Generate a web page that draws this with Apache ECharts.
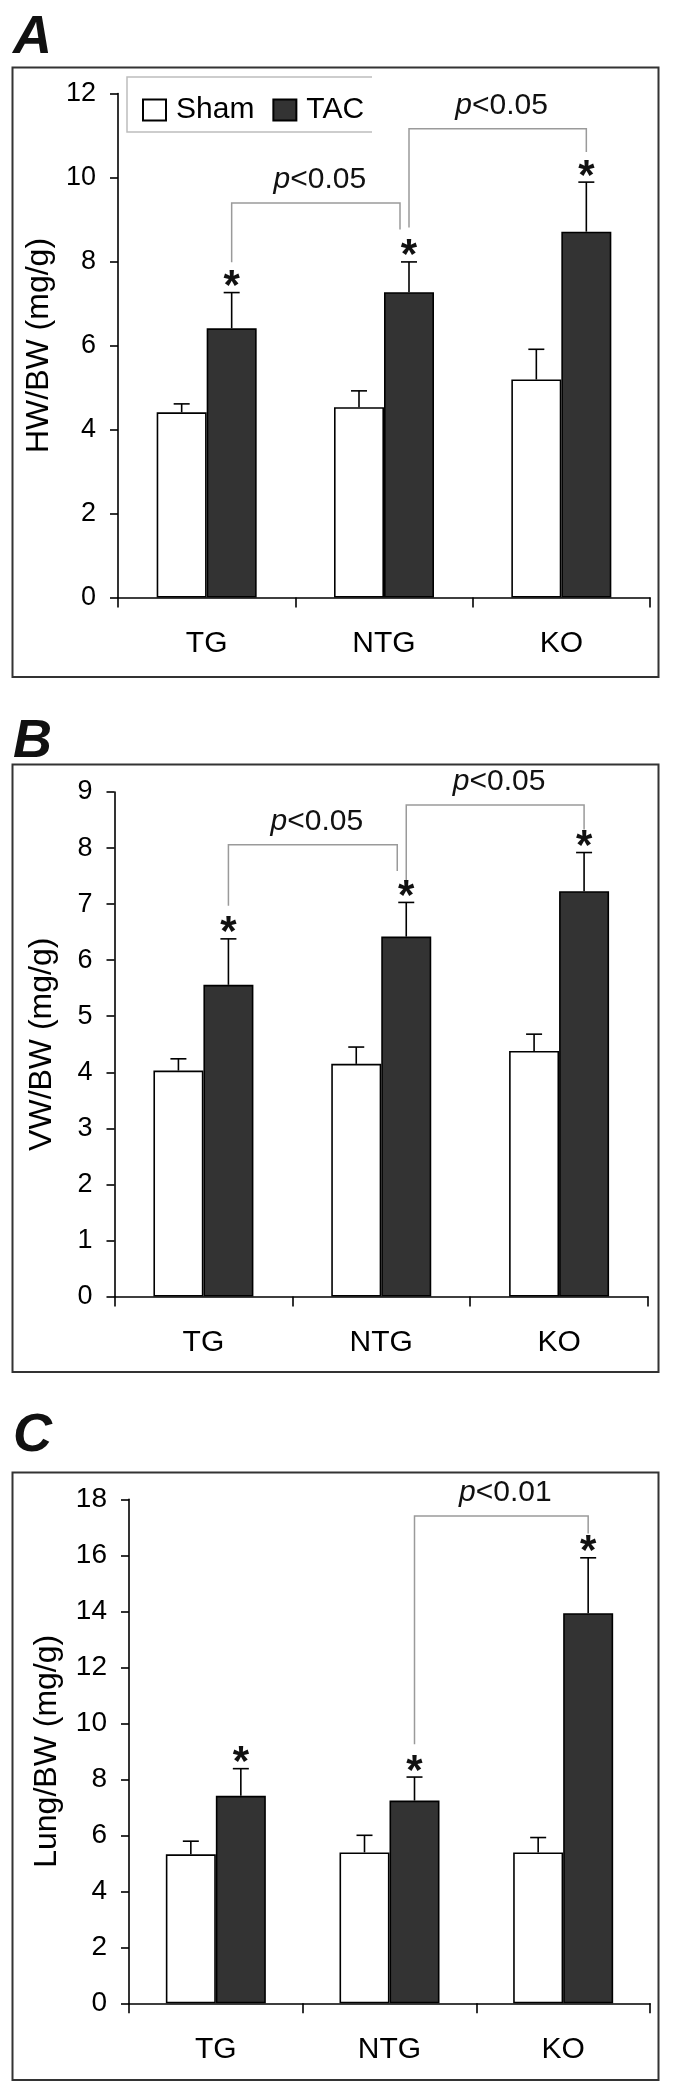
<!DOCTYPE html>
<html><head><meta charset="utf-8">
<script src="https://cdn.jsdelivr.net/npm/echarts@6/dist/echarts.min.js"></script>
<style>html,body{margin:0;padding:0;background:#fff}#c{width:674px;height:2094px}</style>
</head><body><div id="c"></div>
<script>
// ---------- data ----------
const categories = ['TG', 'NTG', 'KO'];
const seriesNames = ['Sham', 'TAC'];

// Panel A: HW/BW (mg/g)
const hwSham = [4.41, 4.53, 5.19];
const hwShamTop = [4.61, 4.92, 5.91];
const hwTac = [6.41, 7.27, 8.71];
const hwTacTop = [7.26, 7.99, 9.89];
const hwBrackets = [[0, 1, 7.98, 9.39, 8.76, 'p<0.05'], [1, 2, 8.81, 11.16, 10.61, 'p<0.05']];

// Panel B: VW/BW (mg/g)
const vwSham = [4.03, 4.15, 4.38];
const vwShamTop = [4.24, 4.45, 4.68];
const vwTac = [5.56, 6.42, 7.23];
const vwTacTop = [6.38, 7.03, 7.92];
const vwBrackets = [[0, 1, 6.97, 8.06, 7.59, 'p<0.05'], [1, 2, 7.36, 8.77, 8.33, 'p<0.05']];

// Panel C: Lung/BW (mg/g)
const lungSham = [5.32, 5.39, 5.39];
const lungShamTop = [5.79, 6.00, 5.92];
const lungTac = [7.41, 7.24, 13.93];
const lungTacTop = [8.38, 8.08, 15.91];
const lungBrackets = [[1, 2, 9.25, 17.4, 16.78, 'p<0.01']];

// ---------- rendering ----------
const FONT = '"Liberation Sans", Arial, Helvetica, sans-serif';
const BAR = 50;

const panels = [
  { letter: 'A', name: 'HW/BW (mg/g)', max: 12, interval: 2, nameGap: 56, tickFont: 27,
    grid: { left: 118, top: 93.5, width: 532, height: 504 },
    sham: hwSham, shamTop: hwShamTop, tac: hwTac, tacTop: hwTacTop, brackets: hwBrackets },
  { letter: 'B', name: 'VW/BW (mg/g)', max: 9, interval: 1, nameGap: 56, tickFont: 27,
    grid: { left: 114.5, top: 792, width: 533.5, height: 504.5 },
    sham: vwSham, shamTop: vwShamTop, tac: vwTac, tacTop: vwTacTop, brackets: vwBrackets },
  { letter: 'C', name: 'Lung/BW (mg/g)', max: 18, interval: 2, nameGap: 66, tickFont: 28,
    grid: { left: 129, top: 1499.3, width: 521, height: 504 },
    sham: lungSham, shamTop: lungShamTop, tac: lungTac, tacTop: lungTacTop, brackets: lungBrackets }
];

function errSeries(gi, means, tops, side, star) {
  return {
    type: 'custom', xAxisIndex: gi, yAxisIndex: gi, z: 5, silent: true,
    data: means.map((m, i) => [i, m, tops[i]]),
    renderItem(params, api) {
      const c = api.coord([api.value(0), api.value(1)]);
      const t = api.coord([api.value(0), api.value(2)]);
      const x = c[0] + side * BAR / 2;
      const ch = [
        { type: 'line', shape: { x1: x, y1: c[1], x2: x, y2: t[1] }, style: { stroke: '#000', lineWidth: 1.6 } },
        { type: 'line', shape: { x1: x - 8, y1: t[1], x2: x + 8, y2: t[1] }, style: { stroke: '#000', lineWidth: 1.6 } }
      ];
      if (star) ch.push({ type: 'text', x: x, y: t[1] - 5,
        style: { text: '*', font: 'bold 42px ' + FONT, fill: '#111', align: 'center', verticalAlign: 'middle' } });
      return { type: 'group', children: ch };
    }
  };
}

function bracketSeries(gi, brs) {
  return {
    type: 'custom', xAxisIndex: gi, yAxisIndex: gi, z: 4, silent: true,
    data: brs.map(b => b.slice(0, 5)),
    renderItem(params, api) {
      const b = brs[params.dataIndex];
      const shift = brs.some(o => o[0] === b[1]) ? -9 : 0;
      const l = api.coord([b[0], b[2]]);
      const top = api.coord([b[0], b[3]]);
      const r = api.coord([b[1], b[4]]);
      const xl = l[0] + BAR / 2, xr = r[0] + BAR / 2 + shift;
      const txt = b[5];
      return { type: 'group', children: [
        { type: 'polyline', shape: { points: [[xl, l[1]], [xl, top[1]], [xr, top[1]], [xr, r[1]]] },
          style: { stroke: '#9a9a9a', lineWidth: 1.5, fill: null } },
        { type: 'text', x: (xl + xr) / 2 + 4, y: top[1] - 23,
          style: { text: '{i|' + txt[0] + '}{n|' + txt.slice(1) + '}', align: 'center', verticalAlign: 'middle',
            rich: { i: { font: 'italic 30px ' + FONT, fill: '#111' }, n: { font: '30px ' + FONT, fill: '#111' } } } }
      ] };
    }
  };
}

const option = {
  animation: false,
  backgroundColor: '#fff',
  grid: panels.map(p => p.grid),
  xAxis: panels.map((p, i) => ({
    type: 'category', gridIndex: i, data: categories,
    axisLine: { lineStyle: { color: '#000', width: 1.6 } },
    axisTick: { show: true, length: 10, lineStyle: { color: '#000', width: 1.6 } },
    axisLabel: { color: '#000', fontSize: 30, fontFamily: FONT, margin: 31 },
    splitLine: { show: false }
  })),
  yAxis: panels.map((p, i) => ({
    type: 'value', gridIndex: i, min: 0, max: p.max, interval: p.interval,
    name: p.name, nameLocation: 'middle', nameGap: p.nameGap, nameRotate: 90,
    nameTextStyle: { color: '#000', fontSize: 32, fontFamily: FONT },
    axisLine: { show: true, lineStyle: { color: '#000', width: 1.6 } },
    axisTick: { show: true, length: 8, lineStyle: { color: '#000', width: 1.6 } },
    axisLabel: { color: '#000', fontSize: p.tickFont, fontFamily: FONT, margin: 22 },
    splitLine: { show: false }
  })),
  legend: {
    data: seriesNames, left: 137, top: 90, itemWidth: 23, itemHeight: 21, itemGap: 18,
    icon: 'rect', selectedMode: false,
    textStyle: { fontSize: 30, fontFamily: FONT, color: '#000', padding: [0, 0, 0, 5] }
  },
  series: [],
  graphic: []
};

panels.forEach((p, i) => {
  option.series.push({
    type: 'bar', name: seriesNames[0], xAxisIndex: i, yAxisIndex: i, data: p.sham,
    barWidth: BAR, barGap: '0%',
    itemStyle: { color: '#fff', borderColor: '#000', borderWidth: 1.6 }
  });
  option.series.push({
    type: 'bar', name: seriesNames[1], xAxisIndex: i, yAxisIndex: i, data: p.tac,
    barWidth: BAR, barGap: '0%',
    itemStyle: { color: '#333', borderColor: '#000', borderWidth: 1.6 }
  });
  option.series.push(errSeries(i, p.sham, p.shamTop, -1, false));
  option.series.push(errSeries(i, p.tac, p.tacTop, 1, true));
  option.series.push(bracketSeries(i, p.brackets));
});

// frames and panel letters
const frames = [[67.5, 677], [764.5, 1372], [1472.5, 2080]];
const letterY = [11, 715, 1409];
frames.forEach((f, i) => {
  option.graphic.push({ type: 'rect', shape: { x: 12.5, y: f[0], width: 646, height: f[1] - f[0] },
    style: { fill: null, stroke: '#333', lineWidth: 2 }, silent: true });
  option.graphic.push({ type: 'text', x: 13, y: letterY[i],
    style: { text: panels[i].letter, font: 'italic bold 54px ' + FONT, fill: '#111', verticalAlign: 'top' } });
});
// legend box (open on the right)
option.graphic.push({ type: 'polyline', shape: { points: [[372, 77], [127, 77], [127, 132], [372, 132]] },
  style: { stroke: '#bdbdbd', lineWidth: 1.5, fill: null }, silent: true });

const chart = echarts.init(document.getElementById('c'), null, { renderer: 'canvas' });
chart.setOption(option);
</script></body></html>
